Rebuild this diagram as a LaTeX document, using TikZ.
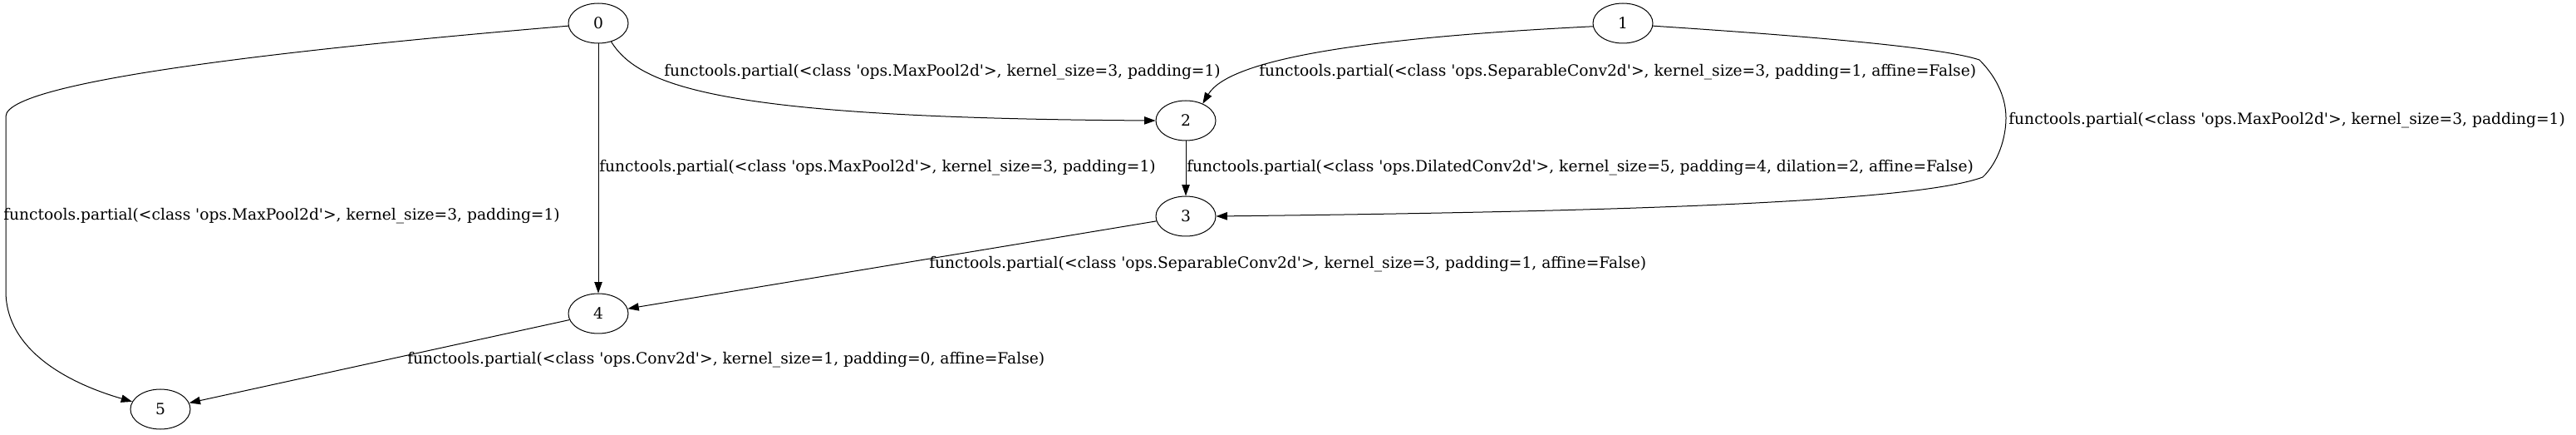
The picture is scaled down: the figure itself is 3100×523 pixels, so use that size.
\documentclass[tikz,border=0pt]{standalone}
\usepackage{fontspec}
\setmainfont{DejaVu Serif}
\usetikzlibrary{arrows.meta,shapes.geometric}
\newcommand{\qq}{\textquotesingle}
\begin{document}
\begin{tikzpicture}[x=0.75pt,y=-0.75pt,
  nd/.style={ellipse,draw,line width=0.75pt,minimum width=54pt,minimum height=36pt,inner sep=0pt,font=\fontsize{14}{16}\selectfont},
  lbl/.style={anchor=west,inner sep=0pt,font=\fontsize{14}{16}\selectfont},
  edge/.style={draw,line width=0.75pt,-{Triangle[length=10pt,width=7pt]}}]
\useasboundingbox (0,0) rectangle (3100,523);
\node[nd] (n0) at (720,28) {0};
\node[nd] (n1) at (1953,28) {1};
\node[nd] (n2) at (1427,145) {2};
\node[nd] (n3) at (1427,260) {3};
\node[nd] (n4) at (720,377) {4};
\node[nd] (n5) at (193,492) {5};
% edges
\draw[edge] (n0.185) .. controls (400,55) and (7,95) .. (7,140) -- (7,350) .. controls (7,420) and (80,460) .. (n5.165);
\draw[edge] (n0) -- (n4);
\draw[edge] (n0.-55) .. controls (770,105) and (870,142) .. (n2.west);
\draw[edge] (n1.186) .. controls (1650,45) and (1480,70) .. (n2.45);
\draw[edge] (n1.-5) .. controls (2200,45) and (2340,58) .. (2382,72) .. controls (2405,95) and (2414,120) .. (2414,142) .. controls (2414,165) and (2405,195) .. (2386,213) .. controls (2300,245) and (1900,255) .. (n3.east);
\draw[edge] (n2) -- (n3);
\draw[edge] (n3) -- (n4);
\draw[edge] (n4) -- (n5);
% labels
\node[lbl] (l05) at (4,260) {functools.partial(<class \qq ops.MaxPool2d\qq>, kernel\_size=3, padding=1)};
\node[lbl] (l04) at (721,202) {functools.partial(<class \qq ops.MaxPool2d\qq>, kernel\_size=3, padding=1)};
\node[lbl] (l02) at (799,87) {functools.partial(<class \qq ops.MaxPool2d\qq>, kernel\_size=3, padding=1)};
\node[lbl] (l12) at (1515,87) {functools.partial(<class \qq ops.SeparableConv2d\qq>, kernel\_size=3, padding=1, affine=False)};
\node[lbl] (l13) at (2417,145) {functools.partial(<class \qq ops.MaxPool2d\qq>, kernel\_size=3, padding=1)};
\node[lbl] (l23) at (1428,202) {functools.partial(<class \qq ops.DilatedConv2d\qq>, kernel\_size=5, padding=4, dilation=2, affine=False)};
\node[lbl] (l34) at (1118,318) {functools.partial(<class \qq ops.SeparableConv2d\qq>, kernel\_size=3, padding=1, affine=False)};
\node[lbl] (l45) at (490,433) {functools.partial(<class \qq ops.Conv2d\qq>, kernel\_size=1, padding=0, affine=False)};
\end{tikzpicture}
\end{document}
